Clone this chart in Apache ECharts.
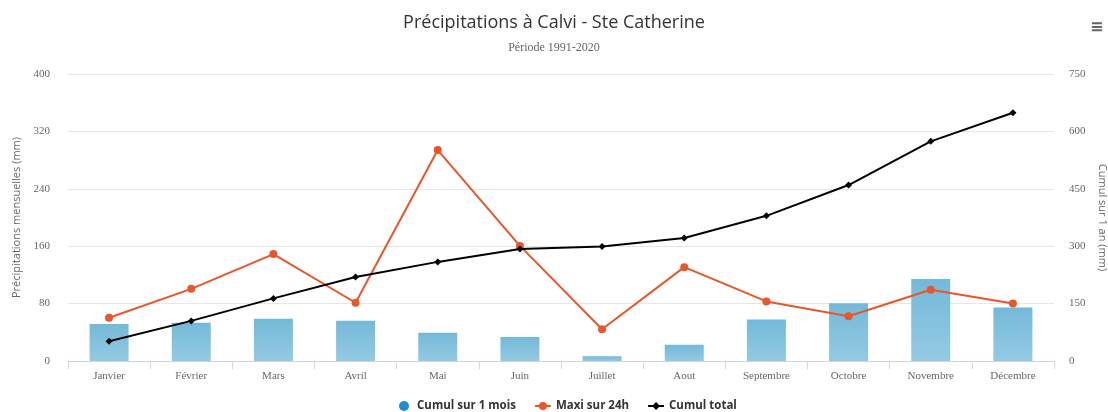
<!DOCTYPE html>
<html>
<head>
<meta charset="utf-8">
<script src="https://cdn.jsdelivr.net/npm/echarts@6/dist/echarts.min.js"></script>
<style>
  html, body { margin: 0; padding: 0; background: #fff; }
  #chart { width: 1108px; height: 412px; }
</style>
</head>
<body>
<div id="chart"></div>
<script>
// Monthly precipitation at Calvi - Ste Catherine, normals 1991-2020 (mm)
const months = ['Janvier', 'Février', 'Mars', 'Avril', 'Mai', 'Juin',
                'Juillet', 'Aout', 'Septembre', 'Octobre', 'Novembre', 'Décembre'];
const cumulMois = [51.6, 53.2, 58.8, 56.0, 39.4, 33.4, 6.6, 22.6, 57.8, 80.4, 114.2, 74.6];
const maxi24h = [60.2, 100.6, 149.0, 81.2, 294.0, 160.4, 44.2, 130.8, 83.0, 62.4, 99.4, 80.2];
const cumulTotal = [51.6, 104.8, 163.6, 219.6, 259.0, 292.4, 299.0, 321.6, 379.4, 459.8, 574.0, 648.6];
const leftTicks = [0, 80, 160, 240, 320, 400];
const rightTicks = [0, 150, 300, 450, 600, 750];

const FONT = '"Open Sans", "DejaVu Sans", sans-serif';
const chart = echarts.init(document.getElementById('chart'), null, { renderer: 'canvas' });

chart.setOption({
  animation: false,
  textStyle: { fontFamily: FONT },
  title: {
    text: 'Précipitations à Calvi - Ste Catherine',
    subtext: 'Période 1991-2020',
    left: 'center',
    top: 9,
    itemGap: 10,
    textStyle: { fontFamily: FONT, fontSize: 18, fontWeight: 'normal', color: '#333' },
    subtextStyle: { fontFamily: '"Liberation Serif", serif', fontSize: 12, color: '#666' }
  },
  graphic: [{
    type: 'text',
    left: 1090,
    top: 20,
    style: { text: '≡', font: 'bold 16px "DejaVu Sans"', fill: '#666' }
  }],
  legend: {
    top: 395,
    left: 394,
    itemGap: 18,
    itemWidth: 16,
    itemHeight: 10,
    textStyle: { fontFamily: FONT, fontSize: 11.5, fontWeight: 'bold', color: '#333' },
    data: [
      { name: 'Cumul sur 1 mois', icon: 'circle', itemStyle: { color: '#1f8fcf' } },
      { name: 'Maxi sur 24h' },
      { name: 'Cumul total' }
    ]
  },
  grid: { left: 68, right: 54, top: 74, bottom: 51, containLabel: false, outerBoundsMode: 'none' },
  xAxis: {
    type: 'category',
    data: months,
    boundaryGap: true,
    axisLine: { lineStyle: { color: '#ccd6eb' } },
    axisTick: { show: true, length: 8, lineStyle: { color: '#ccd6eb' } },
    axisLabel: { color: '#666', fontSize: 11, margin: 10, fontFamily: '"Liberation Serif", serif' }
  },
  yAxis: [{
    type: 'value',
    min: leftTicks[0],
    max: leftTicks[leftTicks.length - 1],
    interval: 80,
    name: 'Précipitations mensuelles (mm)',
    nameLocation: 'middle',
    nameGap: 46,
    nameTextStyle: { color: '#666', fontSize: 11 },
    axisLabel: { color: '#666', fontSize: 11, margin: 18, fontFamily: '"Liberation Serif", serif' },
    splitLine: { lineStyle: { color: '#e6e6e6' } },
    axisLine: { show: false },
    axisTick: { show: false }
  }, {
    type: 'value',
    min: rightTicks[0],
    max: rightTicks[rightTicks.length - 1],
    interval: 150,
    position: 'right',
    name: 'Cumul sur 1 an (mm)',
    nameLocation: 'middle',
    nameGap: 41,
    nameRotate: -90,
    nameTextStyle: { color: '#666', fontSize: 11 },
    axisLabel: { color: '#666', fontSize: 11, margin: 15, fontFamily: '"Liberation Serif", serif' },
    splitLine: { show: false },
    axisLine: { show: false },
    axisTick: { show: false }
  }],
  series: [{
    name: 'Cumul sur 1 mois',
    type: 'bar',
    yAxisIndex: 0,
    data: cumulMois,
    barWidth: 39,
    itemStyle: {
      color: new echarts.graphic.LinearGradient(0, 0, 0, 1, [
        { offset: 0, color: '#74b9d9' },
        { offset: 1, color: '#94cae2' }
      ])
    },
    z: 1
  }, {
    name: 'Maxi sur 24h',
    type: 'line',
    yAxisIndex: 0,
    data: maxi24h,
    symbol: 'circle',
    symbolSize: 8,
    lineStyle: { color: '#e8562a', width: 2 },
    itemStyle: { color: '#e8562a' },
    z: 3
  }, {
    name: 'Cumul total',
    type: 'line',
    yAxisIndex: 1,
    data: cumulTotal,
    symbol: 'diamond',
    symbolSize: 7,
    lineStyle: { color: '#000', width: 2 },
    itemStyle: { color: '#000' },
    z: 4
  }]
});
</script>
</body>
</html>
